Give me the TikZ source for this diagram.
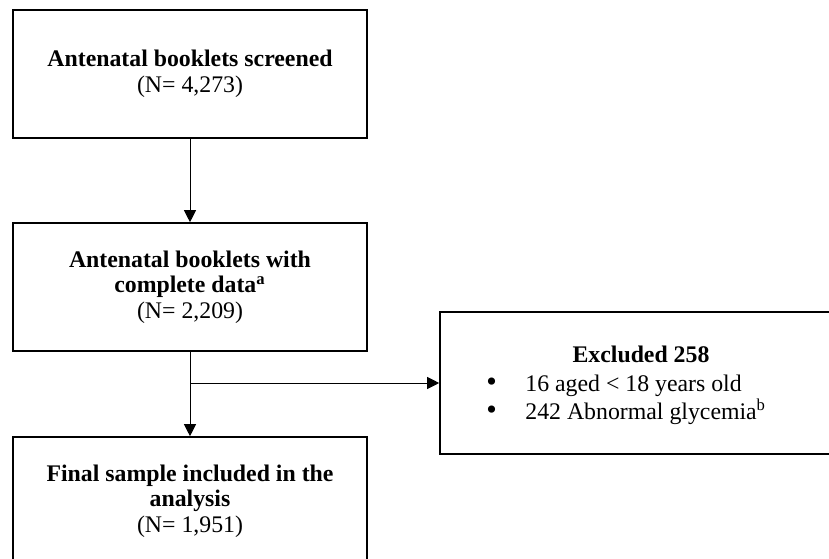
\documentclass[tikz,border=0pt]{standalone}
\usepackage{fontspec}
\setmainfont{Liberation Serif}
\usetikzlibrary{arrows.meta}

\newcommand{\bulletitem}{\makebox[19.5pt][l]{\smash{\fontsize{15pt}{15pt}\selectfont\textbullet}}}

\begin{document}
\begin{tikzpicture}[x=0.5pt,y=0.5pt,font=\fontsize{11.9pt}{12.75pt}\selectfont]

        \useasboundingbox (0,0) rectangle (829,558);

        \begin{scope}[every node/.style={draw,line width=0.8pt,align=center,
            minimum width=177pt,minimum height=64pt,inner sep=0pt}]
          \node (screened) at (190,484) {\textbf{Antenatal booklets screened}\\(N= 4,273)};
          \node (complete) at (190,271) {\textbf{Antenatal booklets with}\\\textbf{complete data\textsuperscript{a}}\\(N= 2,209)};
          \node (final)    at (190,57)  {\textbf{Final sample included in the}\\\textbf{analysis}\\(N= 1,951)};
          \node (excluded) at (641,175) [minimum width=201pt,minimum height=71pt] {};
        \end{scope}

        \begin{scope}[every node/.style={inner sep=0pt}]
          \node (exclhead) [anchor=base]      at (641,196) {\textbf{Excluded 258}};
          \node (excl1)    [anchor=base west] at (486,167) {\bulletitem 16 aged < 18 years old};
          \node (excl2)    [anchor=base west] at (486,139) {\bulletitem 242 Abnormal glycemia\textsuperscript{b}};
        \end{scope}

        \coordinate (split) at (190,175);

        \begin{scope}[-{Triangle[width=6pt,length=6pt]},line width=0.5pt]
          \path (screened) edge (complete);
          \path (complete) edge (final);
          \path (split)    edge (excluded);
        \end{scope}

      \end{tikzpicture}
\end{document}
